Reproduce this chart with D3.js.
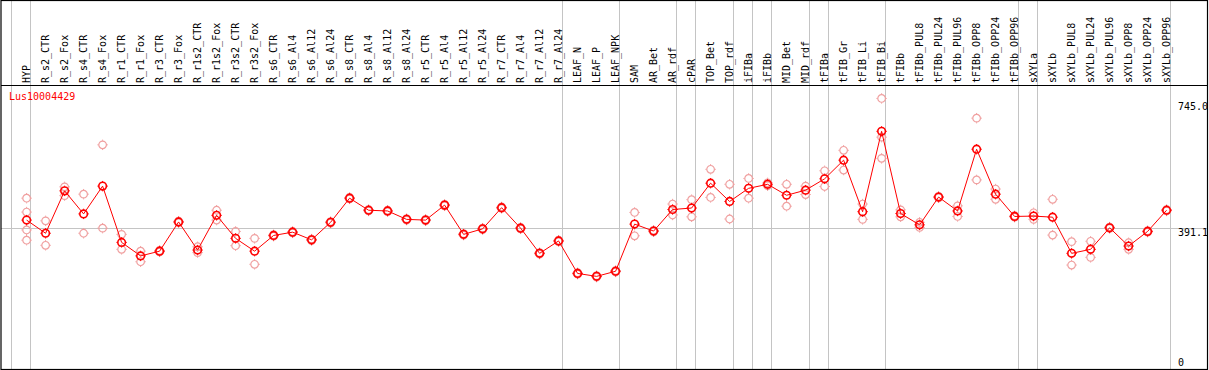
<!DOCTYPE html>
<html>
<head>
<meta charset="utf-8">
<script src="https://cdn.jsdelivr.net/npm/d3@7"></script>
<style>
  body { margin: 0; background: #fff; }
  text { font-family: "DejaVu Sans Mono", monospace; font-size: 10px; }
</style>
</head>
<body>
<div id="chart"></div>
<script>
var geneName = "Lus10004429";

var categories = ["HYP", "R_s2_CTR", "R_s2_Fox", "R_s4_CTR", "R_s4_Fox", "R_r1_CTR", "R_r1_Fox",
  "R_r3_CTR", "R_r3_Fox", "R_r1s2_CTR", "R_r1s2_Fox", "R_r3s2_CTR", "R_r3s2_Fox",
  "R_s6_CTR", "R_s6_Al4", "R_s6_Al12", "R_s6_Al24", "R_s8_CTR", "R_s8_Al4", "R_s8_Al12", "R_s8_Al24",
  "R_r5_CTR", "R_r5_Al4", "R_r5_Al12", "R_r5_Al24", "R_r7_CTR", "R_r7_Al4", "R_r7_Al12", "R_r7_Al24",
  "LEAF_N", "LEAF_P", "LEAF_NPK", "SAM", "AR_Bet", "AR_rdf", "cPAR", "TOP_Bet", "TOP_rdf",
  "iFIBa", "iFIBb", "MID_Bet", "MID_rdf", "tFIBa", "tFIB_Gr", "tFIB_Li", "tFIB_Bi",
  "tFIBb", "tFIBb_PUL8", "tFIBb_PUL24", "tFIBb_PUL96", "tFIBb_OPP8", "tFIBb_OPP24", "tFIBb_OPP96",
  "sXYLa", "sXYLb", "sXYLb_PUL8", "sXYLb_PUL24", "sXYLb_PUL96", "sXYLb_OPP8", "sXYLb_OPP24", "sXYLb_OPP96"];

var meanValues = [413, 377, 493, 430, 506, 352, 315,
  328, 408, 331, 426, 363, 328,
  371, 380, 359, 407, 473, 440, 438, 415,
  413, 454, 374, 389, 447, 391, 322, 356,
  267, 259, 273, 402, 383, 442, 446, 514, 464,
  500, 511, 481, 495, 526, 577, 436, 656,
  431, 400, 476, 438, 607, 484, 423,
  424, 421, 322, 333, 392, 342, 382, 440];

var replicates = [[473, 435, 386, 358], [411, 344], [504, 480], [484, 377], [619, 391], [374, 333], [328, 299],
  [326, 330], [406, 410], [340, 324], [440, 413], [382, 343], [363, 292],
  [369, 373], [378, 382], [357, 361], [405, 409], [471, 475], [438, 442], [436, 440], [413, 417],
  [411, 415], [452, 456], [372, 376], [387, 391], [445, 449], [389, 393], [320, 324], [354, 358],
  [265, 269], [257, 261], [271, 275], [434, 370], [381, 385], [457, 427], [469, 422], [552, 475], [511, 416],
  [527, 473], [515, 507], [511, 451], [506, 483], [548, 505], [604, 550], [457, 415], [746, 640, 582],
  [441, 422], [407, 393], [474, 478], [452, 423], [692, 523], [498, 470], [425, 421],
  [433, 415], [470, 372], [354, 290], [355, 311], [390, 394], [351, 333], [380, 384], [438, 442]];

// a grey separator is drawn before each of these
var groupStarts = ["HYP", "R_s2_CTR", "LEAF_N", "SAM", "cPAR", "TOP_Bet", "iFIBa", "iFIBb",
  "MID_Bet", "tFIBa", "tFIB_Gr", "tFIBb", "sXYLa", "sXYLb"];

var yTicks = [745.0, 391.1, 0];

var width = 1209, height = 370;
var headerBottom = 85.5, plotBottom = 369.5;

var svg = d3.select("#chart")
  .append("svg")
  .attr("width", width)
  .attr("height", height)

var x = d3.scaleBand()
  .domain(categories)
  .range([11, 11 + categories.length * 19])

var y = d3.scaleLinear()
  .domain([0, 745])
  .range([371, 98.8])

function px(c) { return x(c) + 15.6 }

// grey separators (through header too)
var seps = groupStarts.map(function(c){ return Math.round(x(c)) + 0.5 })
seps.push(Math.round(x.range()[1]) + 0.5)

svg.selectAll(".sep")
  .data(seps)
  .enter().append("line")
  .attr("class", "sep")
  .attr("x1", function(d){ return d })
  .attr("x2", function(d){ return d })
  .attr("y1", 0)
  .attr("y2", plotBottom)
  .attr("stroke", "#c4c4c4")
  .attr("stroke-width", 1)

// horizontal grid at middle tick
svg.append("line")
  .attr("x1", 1).attr("x2", width - 1)
  .attr("y1", Math.round(y(391.1)) + 0.5)
  .attr("y2", Math.round(y(391.1)) + 0.5)
  .attr("stroke", "#c4c4c4")

// frame
svg.append("rect")
  .attr("x", 1).attr("y", 0.5)
  .attr("width", width - 2.5).attr("height", plotBottom - 0.5)
  .attr("fill", "none")
  .attr("stroke", "#000")
  .attr("stroke-width", 1.2)

svg.append("line")
  .attr("x1", 1).attr("x2", width - 1)
  .attr("y1", headerBottom).attr("y2", headerBottom)
  .attr("stroke", "#000")
  .attr("stroke-width", 1.2)

// column labels
svg.selectAll(".col-label")
  .data(categories)
  .enter().append("text")
  .attr("class", "col-label")
  .attr("transform", function(d){ return "translate(" + (px(d) + 3.4) + ",83) rotate(-90)" })
  .attr("fill", "#000")
  .text(function(d){ return d })

// y labels
svg.selectAll(".y-label")
  .data(yTicks)
  .enter().append("text")
  .attr("class", "y-label")
  .attr("x", 1178)
  .attr("y", function(d, i){
    if (i === 0) return y(d) + 11
    if (i === yTicks.length - 1) return 366
    return y(d) + 8
  })
  .attr("fill", "#000")
  .text(function(d){ return d === 0 ? "0" : d.toFixed(1) })

svg.append("text")
  .attr("x", 9)
  .attr("y", 100)
  .attr("fill", "#ff0000")
  .text(geneName)

function marker(sel, color, sw) {
  sel.append("circle")
    .attr("r", 3.8)
    .attr("fill", "none")
    .attr("stroke", color)
    .attr("stroke-width", sw)
  var ticks = [[0, -4, 0, -5.2], [0, 4, 0, 5.2], [-4, 0, -5.2, 0], [4, 0, 5.2, 0]]
  ticks.forEach(function(t){
    sel.append("line")
      .attr("x1", t[0]).attr("y1", t[1]).attr("x2", t[2]).attr("y2", t[3])
      .attr("stroke", color)
      .attr("stroke-width", 1)
  })
}

// replicate points
var reps = []
replicates.forEach(function(vals, i){
  vals.forEach(function(v){ reps.push({ cat: categories[i], value: v }) })
})

svg.selectAll(".rep")
  .data(reps)
  .enter().append("g")
  .attr("class", "rep")
  .attr("transform", function(d){ return "translate(" + px(d.cat) + "," + y(d.value) + ")" })
  .each(function(){ marker(d3.select(this), "#f0a0a0", 1.2) })

// mean line
var line = d3.line()
  .x(function(d, i){ return px(categories[i]) })
  .y(function(d){ return y(d) })

svg.append("path")
  .datum(meanValues)
  .attr("d", line)
  .attr("fill", "none")
  .attr("stroke", "#ff0000")
  .attr("stroke-width", 1)

svg.selectAll(".mean")
  .data(meanValues)
  .enter().append("g")
  .attr("class", "mean")
  .attr("transform", function(d, i){ return "translate(" + px(categories[i]) + "," + y(d) + ")" })
  .each(function(){ marker(d3.select(this), "#ff0000", 1.6) })
</script>
</body>
</html>
